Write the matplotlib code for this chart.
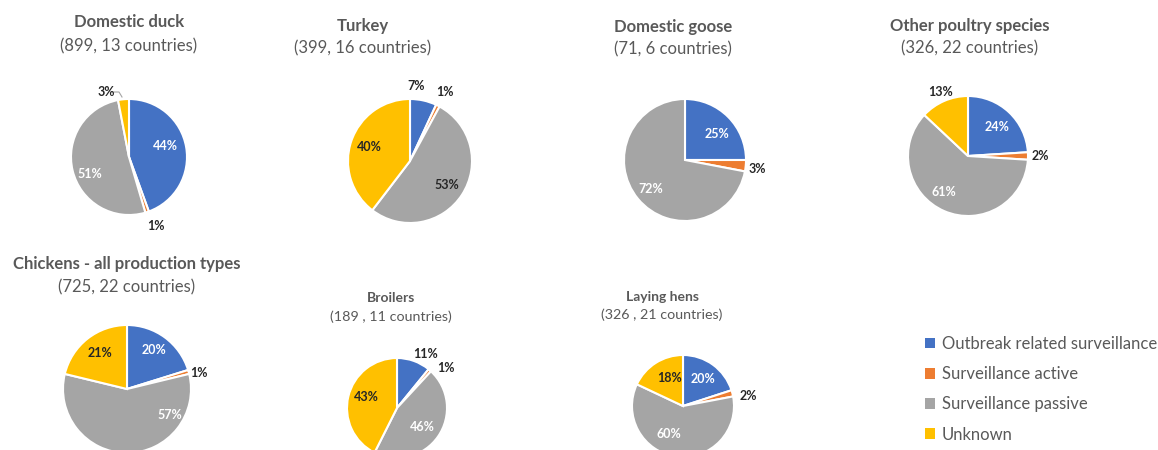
import matplotlib
matplotlib.use("Agg")
import matplotlib.pyplot as plt
from matplotlib.patches import Patch
import numpy as np

plt.rcParams['font.family'] = ['Lato', 'DejaVu Sans']

# Surveillance categories and colours
categories = ["Outbreak related surveillance", "Surveillance active",
              "Surveillance passive", "Unknown"]
cat_colors = ["#4472C4", "#ED7D31", "#A5A5A5", "#FFC000"]

# Share of samples (%) per surveillance type, in category order
duck = [44, 1, 51, 3]
turkey = [7, 1, 53, 40]
goose = [25, 3, 72, 0]
other_poultry = [24, 2, 61, 13]
chickens_all = [20, 1, 57, 21]
broilers = [11, 1, 46, 43]
laying_hens = [20, 2, 60, 18]

titles = ["Domestic duck", "Turkey", "Domestic goose", "Other poultry species",
          "Chickens - all production types", "Broilers", "Laying hens"]
subtitles = ["(899, 13 countries)", "(399, 16 countries)", "(71, 6 countries)",
             "(326, 22 countries)", "(725, 22 countries)", "(189 , 11 countries)",
             "(326 , 21 countries)"]
series = [duck, turkey, goose, other_poultry, chickens_all, broilers, laying_hens]

W, H = 1158, 450
fig = plt.figure(figsize=(W / 100, H / 100), dpi=100)
ax = fig.add_axes([0, 0, 1, 1])

def fy(y):
    # pixel row (from top) -> data y
    return H - y

# layout: pie centre (x, y from top), radius, title block position, title size
layout = [
    dict(c=(129, 157), r=58, tx=129, ty=22, sy=46, tsize=12, ssize=12),
    dict(c=(410, 161), r=62, tx=363, ty=26, sy=48, tsize=12, ssize=12),
    dict(c=(685, 160), r=61, tx=673, ty=27, sy=49, tsize=12, ssize=12),
    dict(c=(968, 156), r=60, tx=970, ty=26, sy=48, tsize=12, ssize=12),
    dict(c=(127, 389), r=64, tx=127, ty=264, sy=287, tsize=12, ssize=12),
    dict(c=(397, 408), r=50, tx=391, ty=298, sy=317, tsize=10, ssize=10.3),
    dict(c=(683, 406), r=51, tx=662, ty=297, sy=315, tsize=10, ssize=10.3),
]

# label placement per wedge: (radial distance as fraction of radius, angle shift in deg)
label_place = [
    [(0.66, 6), (1.27, 3), (0.73, 10), (1.19, 14)],
    [(1.21, 8), (1.25, 0), (0.70, 0), (0.70, 0)],
    [(0.68, -6), (1.19, -2), (0.73, 1), None],
    [(0.68, -2), (1.20, 0), (0.72, -10), (1.16, 0)],
    [(0.74, 1), (1.15, -3), (0.79, 59), (0.70, -1)],
    [(1.22, -8), (1.27, -10), (0.63, -2), (0.66, -6)],
    [(0.66, 0), (1.29, -6), (0.61, -19), (0.61, -6)],
]
INK = "#262626"
label_colors = [
    ["white", INK, "white", INK],
    [INK, INK, INK, INK],
    ["white", INK, "white", INK],
    ["white", INK, "white", INK],
    ["white", INK, "white", INK],
    [INK, INK, "white", INK],
    ["white", INK, "white", INK],
]

title_color = "#595959"

for vals, lay, places, lcols, title, sub in zip(series, layout, label_place,
                                                 label_colors, titles, subtitles):
    cx, cy = lay["c"]
    r = lay["r"]
    idx = [i for i, v in enumerate(vals) if v > 0]
    wedges, _ = ax.pie([vals[i] for i in idx], colors=[cat_colors[i] for i in idx],
                       startangle=90, counterclock=False, center=(cx, fy(cy)),
                       radius=r, wedgeprops=dict(edgecolor="white", linewidth=1.5))
    for w, i in zip(wedges, idx):
        dist, shift = places[i]
        mid = np.deg2rad((w.theta1 + w.theta2) / 2 + shift)
        lx = cx + dist * r * np.cos(mid)
        ly = fy(cy) + dist * r * np.sin(mid)
        ax.text(lx, ly, f"{vals[i]}%", ha="center", va="center", fontsize=9,
                fontweight="bold", color=lcols[i])
    ax.text(lay["tx"], fy(lay["ty"]), title, ha="center", va="center",
            fontsize=lay["tsize"], fontweight="bold", color=title_color)
    ax.text(lay["tx"], fy(lay["sy"]), sub, ha="center", va="center",
            fontsize=lay["ssize"], color=title_color)

# leader line for the small "Unknown" slice of domestic duck
ax.plot([114, 119, 122], [fy(92), fy(92), fy(97)], color="#A5A5A5", lw=0.8)

ax.set_xlim(0, W)
ax.set_ylim(0, H)
ax.set_aspect("equal")
ax.axis("off")

handles = [Patch(facecolor=c, edgecolor="none") for c in cat_colors]
leg = ax.legend(handles, categories, loc="upper left",
                bbox_to_anchor=(925 / W, 1 - 336 / H), frameon=False,
                fontsize=12, handlelength=0.6, handleheight=0.6,
                handletextpad=0.4, labelspacing=0.85, borderpad=0,
                borderaxespad=0)
for t in leg.get_texts():
    t.set_color(title_color)

fig.savefig("out.png", dpi=100)
